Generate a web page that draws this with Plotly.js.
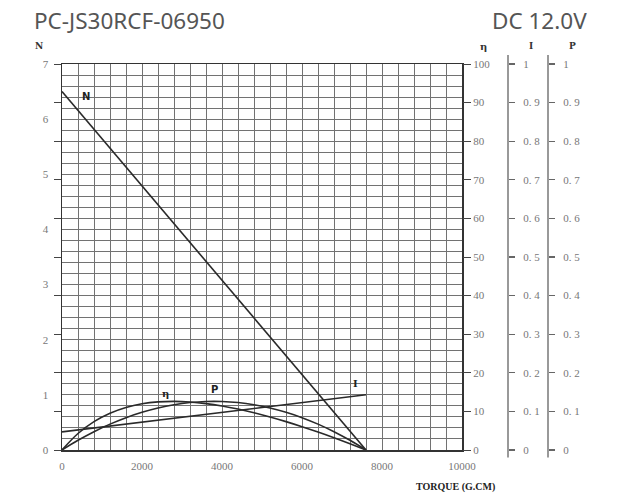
<!DOCTYPE html>
<html><head><meta charset="utf-8">
<script src="https://cdn.plot.ly/plotly-3.0.1.min.js"></script>
<style>html,body{margin:0;padding:0;background:#fff}#chart{width:622px;height:498px}</style>
</head><body><div id="chart"></div>
<script>
// ---- data ----
const torque = [0,400,800,1200,1600,2000,2400,2800,3200,3600,4000,4400,4800,5200,5600,6000,6400,6800,7200,7600];
const efficiency = [0,4.27,7.36,9.54,11.03,11.97,12.46,12.60,12.44,12.02,11.40,10.60,9.64,8.55,7.35,6.04,4.64,3.16,1.61,0];
const power = [0,0.0251,0.0475,0.0670,0.0838,0.0977,0.1089,0.1173,0.1229,0.1257,0.1257,0.1229,0.1173,0.1089,0.0977,0.0838,0.0670,0.0475,0.0251,0];
const lineTorque = [0, 7600];
const speed = [6.5, 0];
const current = [0.047, 0.143];
const xTickVals = [0,2000,4000,6000,8000,10000];
const xTickText = ['0','2000','4000','6000','8000','10000'];
const nTickVals = [0,1,2,3,4,5,6,7];
const etaTickVals = [0,10,20,30,40,50,60,70,80,90,100];
const ipTickVals = [0,0.1,0.2,0.3,0.4,0.5,0.6,0.7,0.8,0.9,1];
const ipTickText = ['0','0. 1','0. 2','0. 3','0. 4','0. 5','0. 6','0. 7','0. 8','0. 9','1'];

// ---- helpers for pixel -> paper coords ----
const L = 62, W = 560, T = 64, H = 386.5;
const px = x => (x - L) / W;
const py = y => (T + H - y) / H;

const lineStyle = {color:'#2a2a2a', width:1.6};
const traces = [
  {x: lineTorque, y: speed, yaxis:'y', mode:'lines', line: lineStyle, hoverinfo:'skip'},
  {x: torque, y: efficiency, yaxis:'y2', mode:'lines', line: Object.assign({shape:'spline'}, lineStyle), hoverinfo:'skip'},
  {x: lineTorque, y: current, yaxis:'y3', mode:'lines', line: lineStyle, hoverinfo:'skip'},
  {x: torque, y: power, yaxis:'y4', mode:'lines', line: Object.assign({shape:'spline'}, lineStyle), hoverinfo:'skip'},
  {x: [0], y: [0], yaxis:'y5', mode:'markers', marker:{opacity:0}, hoverinfo:'skip'}
];

const gridColor = '#727272';
const tickFont = {family:'Liberation Serif, serif', size:11, color:'#777'};
const ipAxis = pos => ({
  overlaying:'y', side:'right', anchor:'free', position: pos, range:[0,1],
  tickmode:'array', tickvals: ipTickVals, ticktext: ipTickText,
  ticks:'outside', ticklen:6, tickwidth:1.2, tickcolor:'#666', ticklabelstandoff:6,
  showgrid:false, zeroline:false, showline:false, tickfont: tickFont
});

const ann = (text, x, y, opts) => Object.assign({
  text: text, xref:'paper', yref:'paper', x: px(x), y: py(y), showarrow:false,
  xanchor:'center', yanchor:'middle'
}, opts || {});
const labelFont = {family:'DejaVu Serif, serif', size:10, color:'#222'};
const headFont = {family:'Noto Sans, sans-serif', size:22.5, color:'#555'};

const layout = {
  width:622, height:498,
  margin:{l:L, r:0, t:T, b:47.5},
  paper_bgcolor:'#fff', plot_bgcolor:'#fff', showlegend:false,
  xaxis:{domain:[0, 400/560], range:[0,10000], tickmode:'array', tickvals:xTickVals, ticktext:xTickText, ticks:'',
    showgrid:true, gridcolor:gridColor, gridwidth:1,
    minor:{dtick:400, showgrid:true, gridcolor:gridColor, gridwidth:1},
    showline:true, linecolor:'#333', linewidth:1.5, mirror:true, zeroline:false,
    tickfont: tickFont, ticklabelstandoff:5},
  yaxis:{range:[0,7], tickmode:'array', tickvals:nTickVals, ticks:'',
    showgrid:true, gridcolor:gridColor, gridwidth:1,
    minor:{dtick:0.2, showgrid:true, gridcolor:gridColor, gridwidth:1},
    showline:true, linecolor:'#333', linewidth:1.5, mirror:true, zeroline:false,
    tickfont: tickFont, ticklabelstandoff:10},
  yaxis2:{overlaying:'y', side:'right', anchor:'x', range:[0,100], tickmode:'array', tickvals:etaTickVals,
    ticks:'outside', ticklen:8, tickcolor:'#444', ticklabelstandoff:0,
    showgrid:false, zeroline:false, showline:false, tickfont: tickFont},
  yaxis3: ipAxis(446/560),
  yaxis4: ipAxis(486/560),
  yaxis5:{overlaying:'y', side:'left', anchor:'x', range:[0,100], tickmode:'array', tickvals:etaTickVals,
    ticks:'outside', ticklen:7, tickcolor:'#444', showticklabels:false,
    showgrid:false, zeroline:false, showline:false},
  shapes:[
    {type:'line', xref:'paper', yref:'paper', x0:446/560, x1:446/560, y0:py(458), y1:py(55), line:{color:'#777', width:1.5}},
    {type:'line', xref:'paper', yref:'paper', x0:486/560, x1:486/560, y0:py(458), y1:py(55), line:{color:'#777', width:1.5}}
  ],
  annotations:[
    ann('PC-JS30RCF-06950', 32, 20, {xanchor:'left', font:headFont}),
    ann('DC 12.0V', 589, 20, {xanchor:'right', font:headFont}),
    ann('<b>N</b>', 39, 46, {font:{family:'DejaVu Serif, serif', size:9, color:'#333'}}),
    ann('<b>η</b>', 483, 46, {font:{family:'DejaVu Serif, serif', size:10, color:'#333'}}),
    ann('<b>I</b>', 531, 46, {font:{family:'DejaVu Serif, serif', size:9, color:'#333'}}),
    ann('<b>P</b>', 572, 46, {font:{family:'DejaVu Serif, serif', size:9, color:'#333'}}),
    ann('<b>TORQUE (G.CM)</b>', 455, 488, {font:{family:'Liberation Serif, serif', size:10, color:'#222'}}),
    ann('<b>N</b>', 86, 97, {font:{family:'DejaVu Sans, sans-serif', size:10, color:'#222'}}),
    ann('<b>η</b>', 165, 394, {font:labelFont}),
    ann('<b>P</b>', 214, 390, {font:{family:'DejaVu Sans, sans-serif', size:10, color:'#222'}}),
    ann('<b>I</b>', 355, 384, {font:labelFont})
  ]
};

Plotly.newPlot('chart', traces, layout, {staticPlot:true, displayModeBar:false});
</script></body></html>
